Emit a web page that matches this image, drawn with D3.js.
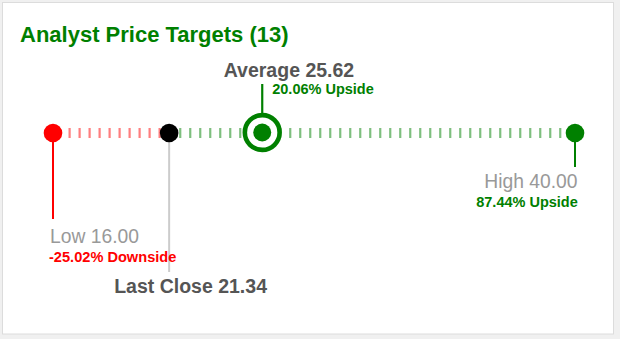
<!DOCTYPE html>
<html>
<head>
<meta charset="utf-8">
<script src="https://cdn.jsdelivr.net/npm/d3@7/dist/d3.min.js"></script>
<style>
  html, body { margin: 0; padding: 0; background: #f0f0f0; }
  svg { display: block; }
  text { font-family: "Liberation Sans", Arial, Helvetica, sans-serif; }
</style>
</head>
<body>
<div id="chart"></div>
<script>
// Analyst price target summary
const analystCount = 13;
const targetKeys   = ["low", "close", "average", "high"];
const targetNames  = ["Low", "Last Close", "Average", "High"];
const targetValues = [16.00, 21.34, 25.62, 40.00];
const targetChange = [-25.02, null, 20.06, 87.44];

const W = 620, H = 339;
const green = "#008000", red = "#ff0000";
const trackY = 133;

const svg = d3.select("#chart").append("svg")
  .attr("width", W).attr("height", H);

// card
svg.append("rect")
  .attr("x", 2.5).attr("y", 2.5).attr("width", 611).attr("height", 331.5)
  .attr("fill", "#fff").attr("stroke", "#dcdcdc").attr("stroke-width", 1);

svg.append("text")
  .attr("x", 20).attr("y", 41.5)
  .attr("fill", green).attr("font-size", 22).attr("font-weight", "bold")
  .text(`Analyst Price Targets (${analystCount})`);

const v = Object.fromEntries(targetKeys.map((k, i) => [k, targetValues[i]]));
const chg = Object.fromEntries(targetKeys.map((k, i) => [k, targetChange[i]]));
const name = Object.fromEntries(targetKeys.map((k, i) => [k, targetNames[i]]));

const x = d3.scaleLinear()
  .domain([v.low, v.high])
  .range([53, 575]);

// dotted track: red from low to last close, green from last close to high
function dashedSegment(x0, x1, color, lead) {
  svg.append("line")
    .attr("x1", x0 + lead).attr("x2", x1)
    .attr("y1", trackY).attr("y2", trackY)
    .attr("stroke", color).attr("stroke-opacity", 0.5)
    .attr("stroke-width", 10)
    .attr("stroke-dasharray", "2.2 7.8");
}
dashedSegment(x(v.low), x(v.close), red, 15.5);
dashedSegment(x(v.close), x(v.high), green, 10);

// stems
svg.append("line")
  .attr("x1", x(v.low)).attr("x2", x(v.low))
  .attr("y1", trackY).attr("y2", 219)
  .attr("stroke", red).attr("stroke-width", 2);
svg.append("line")
  .attr("x1", x(v.close)).attr("x2", x(v.close))
  .attr("y1", trackY).attr("y2", 272)
  .attr("stroke", "#cccccc").attr("stroke-width", 2);
svg.append("line")
  .attr("x1", x(v.high)).attr("x2", x(v.high))
  .attr("y1", trackY).attr("y2", 167)
  .attr("stroke", green).attr("stroke-width", 2);
svg.append("line")
  .attr("x1", x(v.average)).attr("x2", x(v.average))
  .attr("y1", 84).attr("y2", trackY - 18)
  .attr("stroke", green).attr("stroke-width", 2.2);

// markers
svg.append("circle").attr("cx", x(v.low)).attr("cy", trackY).attr("r", 9.3).attr("fill", red);
svg.append("circle").attr("cx", x(v.close)).attr("cy", trackY).attr("r", 9.3).attr("fill", "#000");
svg.append("circle").attr("cx", x(v.high)).attr("cy", trackY).attr("r", 9.3).attr("fill", green);
svg.append("circle").attr("cx", x(v.average)).attr("cy", trackY - 0.5).attr("r", 17.4)
  .attr("fill", "#fff").attr("stroke", green).attr("stroke-width", 4.6);
svg.append("circle").attr("cx", x(v.average)).attr("cy", trackY - 0.5).attr("r", 9).attr("fill", green);

// plain hyphen for negatives, two decimals
const fmt = d => d3.format(".2f")(d).replace("\u2212", "-");
const pct = d => fmt(d) + "%";

// labels
function label(tx, ty, str, opts) {
  svg.append("text")
    .attr("x", tx).attr("y", ty)
    .attr("fill", opts.fill)
    .attr("font-size", opts.size)
    .attr("font-weight", opts.bold ? "bold" : "normal")
    .attr("text-anchor", opts.anchor || "start")
    .text(str);
}

label(x(v.average) - 38.5, 77, `${name.average} ${fmt(v.average)}`, { fill: "#555", size: 19.5, bold: true });
label(x(v.average) + 10, 94, `${pct(chg.average)} Upside`, { fill: green, size: 14.5, bold: true });

label(x(v.low) - 3, 243.3, `${name.low} ${fmt(v.low)}`, { fill: "#999", size: 19.3 });
label(x(v.low) - 4, 261.6, `${pct(chg.low)} Downside`, { fill: red, size: 14.6, bold: true });

label(x(v.high) + 2.5, 188, `${name.high} ${fmt(v.high)}`, { fill: "#999", size: 19.3, anchor: "end" });
label(x(v.high) + 2.8, 206.5, `${pct(chg.high)} Upside`, { fill: green, size: 14.5, bold: true, anchor: "end" });

label(x(v.close) - 55, 292.5, `${name.close} ${fmt(v.close)}`, { fill: "#555", size: 19.5, bold: true });
</script>
</body>
</html>
